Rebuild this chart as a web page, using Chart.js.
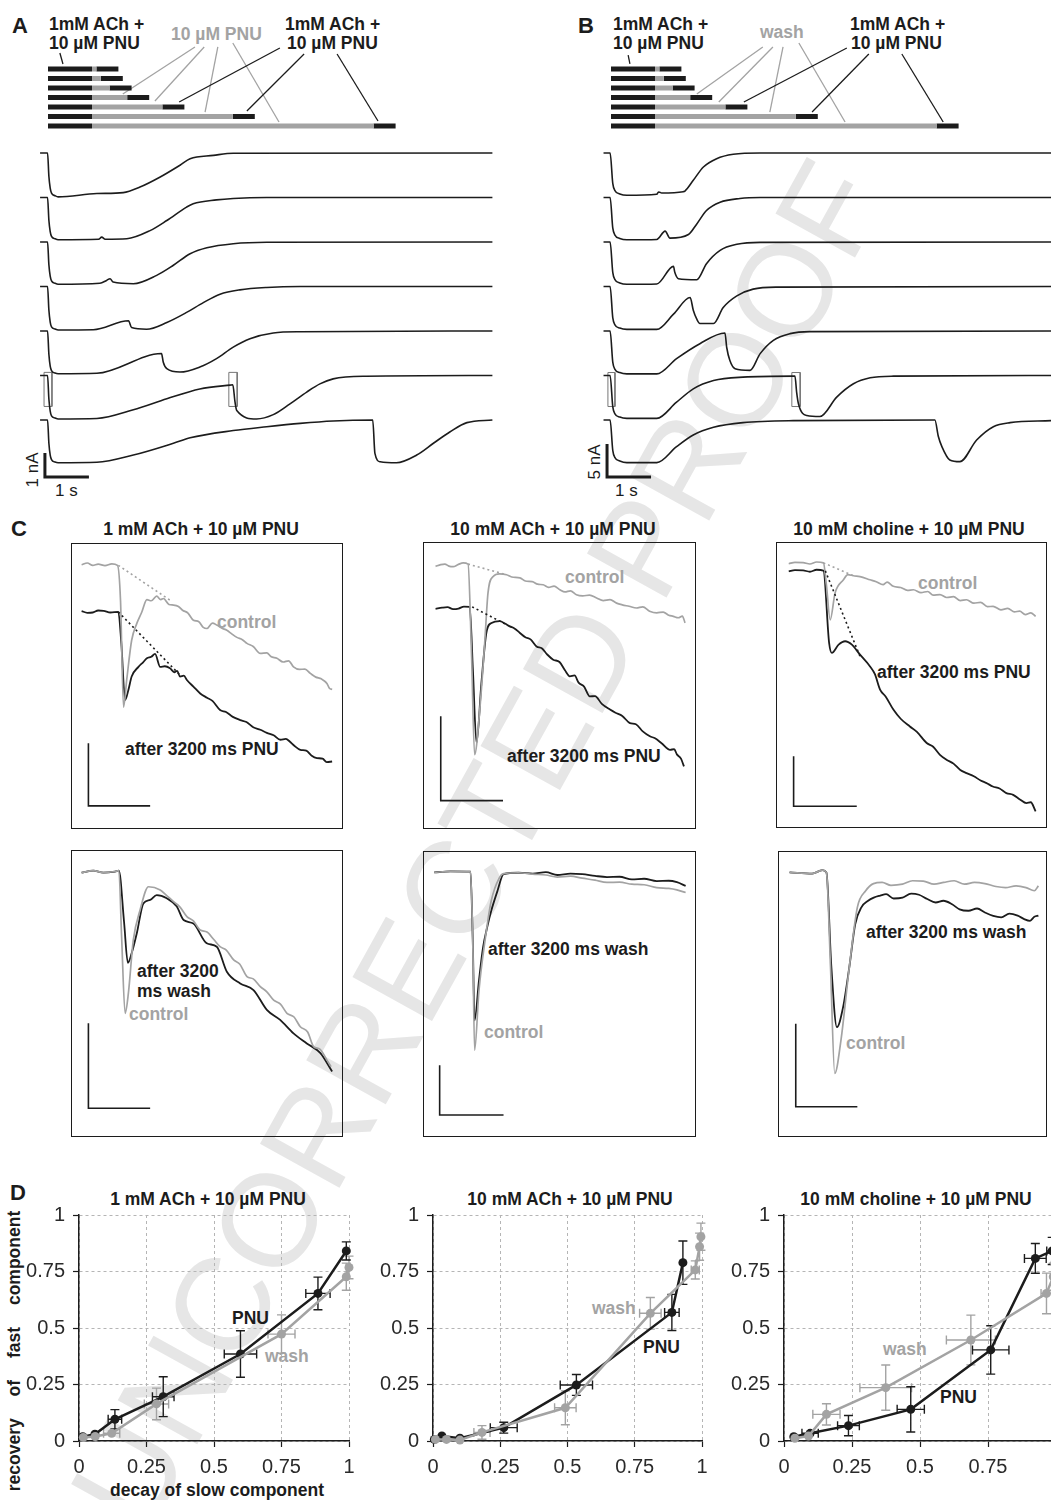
<!DOCTYPE html>
<html>
<head>
<meta charset="utf-8">
<script src="https://cdn.jsdelivr.net/npm/chart.js@4.4.1/dist/chart.umd.min.js"></script>
<style>
    html, body { margin: 0; padding: 0; background: #fff; }
    body { width: 1051px; height: 1500px; position: relative; overflow: hidden; font-family: "Liberation Sans", Arial, sans-serif; }
    canvas { position: absolute; }
    .lbl { position: absolute; font-weight: bold; font-size: 17.5px; line-height: 1; color: #1c1c1c; white-space: nowrap; }
    .gray { color: #a3a3a3; }
    .panel { font-size: 22px; }
    .ctr { transform: translateX(-50%); }
    .reg { font-weight: normal; font-size: 17px; }
    .box { position: absolute; border: 1.5px solid #1c1c1c; box-sizing: border-box; }
    .wm { position: absolute; left: 478px; top: 845px; font-size: 132px; line-height: 1; color: #e6e6e6; white-space: nowrap;
          transform: translate(-50%, -50%) rotate(-61deg); }
</style>
</head>
<body>
<div class="wm">UNCORRECTED PROOF</div>

<!-- panel A / B headers -->
<div class="lbl panel" style="left:12px;top:15px">A</div>
<div class="lbl" style="left:49px;top:16px">1mM ACh +</div>
<div class="lbl" style="left:49px;top:35px">10 µM PNU</div>
<div class="lbl gray" style="left:171px;top:26px">10 µM PNU</div>
<div class="lbl" style="left:285px;top:16px">1mM ACh +</div>
<div class="lbl" style="left:287px;top:35px">10 µM PNU</div>
<div class="lbl reg" style="left:32px;top:470px;transform:translate(-50%,-50%) rotate(-90deg)">1 nA</div>
<div class="lbl reg" style="left:55px;top:482px">1 s</div>

<div class="lbl panel" style="left:578px;top:15px">B</div>
<div class="lbl" style="left:613px;top:16px">1mM ACh +</div>
<div class="lbl" style="left:613px;top:35px">10 µM PNU</div>
<div class="lbl gray" style="left:760px;top:24px">wash</div>
<div class="lbl" style="left:850px;top:16px">1mM ACh +</div>
<div class="lbl" style="left:851px;top:35px">10 µM PNU</div>
<div class="lbl reg" style="left:594px;top:462px;transform:translate(-50%,-50%) rotate(-90deg)">5 nA</div>
<div class="lbl reg" style="left:615px;top:482px">1 s</div>

<!-- panel C -->
<div class="lbl panel" style="left:11px;top:518px">C</div>
<div class="lbl ctr" style="left:201px;top:521px">1 mM ACh + 10 µM PNU</div>
<div class="lbl ctr" style="left:553px;top:521px">10 mM ACh + 10 µM PNU</div>
<div class="lbl ctr" style="left:909px;top:521px">10 mM choline + 10 µM PNU</div>
<div class="box" style="left:71px;top:543px;width:272px;height:286px"></div>
<div class="box" style="left:423px;top:542px;width:273px;height:287px"></div>
<div class="box" style="left:776px;top:542px;width:271px;height:286px"></div>
<div class="box" style="left:71px;top:850px;width:272px;height:287px"></div>
<div class="box" style="left:423px;top:851px;width:273px;height:286px"></div>
<div class="box" style="left:778px;top:851px;width:269px;height:286px"></div>
<div class="lbl gray" style="left:217px;top:614px">control</div>
<div class="lbl" style="left:125px;top:741px">after 3200 ms PNU</div>
<div class="lbl gray" style="left:565px;top:569px">control</div>
<div class="lbl" style="left:507px;top:748px">after 3200 ms PNU</div>
<div class="lbl gray" style="left:918px;top:575px">control</div>
<div class="lbl" style="left:877px;top:664px">after 3200 ms PNU</div>
<div class="lbl" style="left:137px;top:963px">after 3200</div>
<div class="lbl" style="left:137px;top:983px">ms wash</div>
<div class="lbl gray" style="left:129px;top:1006px">control</div>
<div class="lbl" style="left:488px;top:941px">after 3200 ms wash</div>
<div class="lbl gray" style="left:484px;top:1024px">control</div>
<div class="lbl" style="left:866px;top:924px">after 3200 ms wash</div>
<div class="lbl gray" style="left:846px;top:1035px">control</div>

<!-- panel D -->
<div class="lbl panel" style="left:10px;top:1182px">D</div>
<div class="lbl ctr" style="left:208px;top:1191px">1 mM ACh + 10 µM PNU</div>
<div class="lbl ctr" style="left:570px;top:1191px">10 mM ACh + 10 µM PNU</div>
<div class="lbl ctr" style="left:916px;top:1191px">10 mM choline + 10 µM PNU</div>
<div class="lbl" style="left:15px;top:1351px;word-spacing:17px;transform:translate(-50%,-50%) rotate(-90deg)">recovery of fast component</div>
<div class="lbl ctr" style="left:217px;top:1482px">decay of slow component</div>
<div class="lbl" style="left:232px;top:1310px">PNU</div>
<div class="lbl gray" style="left:265px;top:1348px">wash</div>
<div class="lbl gray" style="left:592px;top:1300px">wash</div>
<div class="lbl" style="left:643px;top:1339px">PNU</div>
<div class="lbl gray" style="left:883px;top:1341px">wash</div>
<div class="lbl" style="left:940px;top:1389px">PNU</div>

<script>
// ---------- data ----------
// protocol: 1 s ACh+PNU, then PNU alone (A) or wash (B), then 0.5 s ACh+PNU
const gapDurations = [0.1, 0.2, 0.4, 0.8, 1.6, 3.2, 6.4];   // s
const pulse1 = 1.0;
const pulse2 = 0.5;

// connector lines [time s, protocol row]
const linksALeft = [[[0.27, -1.68], [0.34, -0.53]]];
const linksAGray = [[[3.34, -2.32], [1.70, 2.63]], [[3.55, -2.32], [2.43, 3.37]], [[3.86, -2.32], [3.57, 4.53]], [[4.20, -2.74], [5.25, 5.58]]];
const linksABlack = [[[5.27, -2.21], [2.98, 3.47]], [[5.82, -1.58], [4.52, 4.42]], [[6.57, -1.58], [7.50, 5.47]]];
const linksBLeft = [[[0.39, -1.47], [0.43, -0.53]]];
const linksBGray = [[[3.45, -2.32], [1.95, 2.63]], [[3.68, -2.32], [2.45, 3.47]], [[3.91, -2.32], [3.61, 4.53]], [[4.27, -2.74], [5.32, 5.58]]];
const linksBBlack = [[[5.36, -2.21], [3.02, 3.47]], [[5.86, -1.58], [4.57, 4.53]], [[6.61, -1.58], [7.55, 5.58]]];

// A traces: [time s, current nA]
const traceA1 = [[-0.18,0],[-0.01,0],[0.02,-0.97],[0.05,-1.46],[0.08,-1.67],[0.16,-1.78],[0.23,-1.83],[1.11,-1.69],[1.71,-1.65],[2.09,-1.42],[2.55,-1.0],[3.0,-0.51],[3.23,-0.24],[3.76,-0.1],[4.21,-0.01],[10.1,0]];
const traceA2 = [[-0.18,0],[-0.01,0],[0.02,-0.95],[0.05,-1.42],[0.08,-1.62],[0.16,-1.72],[0.23,-1.76],[1.15,-1.74],[1.22,-1.65],[1.3,-1.74],[1.79,-1.72],[2.32,-1.38],[2.7,-0.96],[3.15,-0.4],[3.3,-0.26],[3.83,-0.1],[4.21,-0.04],[4.97,0],[10.1,0]];
const traceA3 = [[-0.18,0],[-0.01,0],[0.02,-0.95],[0.05,-1.42],[0.08,-1.62],[0.16,-1.72],[0.23,-1.76],[1.18,-1.72],[1.33,-1.6],[1.41,-1.53],[1.48,-1.67],[1.94,-1.74],[2.47,-1.39],[2.85,-0.97],[3.23,-0.49],[3.61,-0.24],[4.21,-0.07],[4.97,-0.01],[10.1,0]];
const traceA4 = [[-0.18,0],[-0.01,0],[0.02,-0.98],[0.05,-1.48],[0.08,-1.68],[0.16,-1.77],[0.23,-1.81],[1.03,-1.8],[1.83,-1.43],[1.9,-1.71],[2.24,-1.78],[2.7,-1.5],[3.15,-1.08],[3.53,-0.67],[3.91,-0.32],[4.36,-0.14],[4.97,-0.04],[5.73,0],[10.1,0]];
const traceA5 = [[-0.18,0],[-0.01,0],[0.02,-0.97],[0.05,-1.46],[0.08,-1.65],[0.16,-1.75],[0.23,-1.78],[1.11,-1.76],[2.58,-0.94],[2.62,-1.3],[2.7,-1.57],[3.0,-1.71],[3.45,-1.5],[3.83,-1.15],[4.21,-0.67],[4.59,-0.32],[5.12,-0.08],[5.73,-0.03],[10.1,0]];
const traceA6 = [[-0.18,0],[-0.01,0],[0.02,-0.98],[0.05,-1.48],[0.08,-1.68],[0.16,-1.77],[0.23,-1.81],[1.11,-1.79],[1.94,-1.43],[2.7,-0.97],[3.45,-0.56],[4.14,-0.4],[4.2,-0.39],[4.25,-1.1],[4.29,-1.46],[4.74,-1.81],[5.12,-1.63],[5.5,-1.18],[5.88,-0.69],[6.18,-0.35],[6.48,-0.14],[7.24,-0.03],[10.1,0]];
const traceA7 = [[-0.18,0],[-0.01,0],[0.02,-0.97],[0.05,-1.46],[0.08,-1.65],[0.16,-1.75],[0.23,-1.78],[1.11,-1.76],[1.94,-1.46],[2.85,-0.97],[3.23,-0.74],[4.21,-0.44],[4.97,-0.28],[5.73,-0.14],[6.48,-0.04],[7.38,0],[7.43,-1.39],[7.55,-1.74],[7.92,-1.78],[8.38,-1.46],[8.76,-0.97],[9.14,-0.49],[9.52,-0.11],[10.1,0]];

// B traces: [time s, current nA]
const traceB1 = [[-0.17,0],[-0.02,0],[0.04,-4.6],[0.09,-5.7],[0.2,-6.2],[0.36,-6.41],[1.04,-6.26],[1.08,-5.9],[1.11,-5.95],[1.15,-6.06],[1.64,-5.86],[1.68,-5.76],[1.87,-4.14],[2.1,-2.12],[2.4,-0.86],[2.78,-0.2],[3.39,0],[10,0]];
const traceB2 = [[-0.17,0],[-0.02,0],[0.04,-4.6],[0.09,-5.7],[0.2,-6.2],[0.36,-6.41],[1.04,-6.36],[1.23,-5.1],[1.34,-6.16],[1.76,-5.61],[1.95,-4.0],[2.17,-1.97],[2.48,-0.71],[2.93,-0.15],[3.39,0],[10,0]];
const traceB3 = [[-0.17,0],[-0.02,0],[0.04,-4.6],[0.09,-5.7],[0.2,-6.2],[0.36,-6.41],[1.04,-6.36],[1.42,-3.69],[1.45,-4.6],[1.53,-5.56],[1.95,-5.71],[2.17,-3.28],[2.48,-1.26],[2.86,-0.35],[3.39,-0.05],[10,0]];
const traceB4 = [[-0.17,0],[-0.02,0],[0.04,-4.7],[0.09,-5.8],[0.2,-6.3],[0.36,-6.5],[1.04,-6.5],[1.42,-4.19],[1.8,-1.67],[1.87,-3.6],[1.95,-4.95],[2.02,-5.6],[2.33,-5.6],[2.55,-3.18],[2.86,-1.41],[3.23,-0.4],[3.77,-0.1],[10,0]];
const traceB5 = [[-0.17,0],[-0.02,0],[0.04,-4.7],[0.09,-5.8],[0.2,-6.3],[0.36,-6.5],[1.04,-6.5],[1.49,-4.19],[2.02,-1.92],[2.59,-0.3],[2.63,-2.5],[2.7,-4.44],[2.82,-5.71],[3.16,-5.96],[3.39,-3.43],[3.69,-1.41],[4.07,-0.4],[4.52,-0.1],[10,0]];
const traceB6 = [[-0.17,0],[-0.02,0],[0.04,-4.7],[0.09,-5.8],[0.2,-6.3],[0.36,-6.5],[1.04,-6.5],[1.49,-4.04],[1.87,-2.02],[2.33,-0.76],[3.0,-0.25],[4.14,-0.1],[4.18,-0.1],[4.22,-2.6],[4.26,-4.29],[4.45,-6.06],[4.75,-6.21],[5.13,-3.28],[5.51,-1.26],[5.89,-0.35],[6.42,-0.1],[10,0]];
const traceB7 = [[-0.17,0],[-0.02,0],[0.04,-4.6],[0.09,-5.7],[0.2,-6.2],[0.36,-6.46],[1.04,-6.46],[1.49,-4.04],[1.87,-2.27],[2.33,-1.11],[3.0,-0.4],[4.14,-0.1],[7.36,0],[7.44,-2.5],[7.52,-4.04],[7.7,-6.06],[7.93,-6.31],[8.31,-3.03],[8.69,-1.01],[9.07,-0.4],[10,-0.1]];

// magnified windows (boxes in row 6), [t0, t1, v0, v1] relative to that row
const zoomBoxesA = [[-0.09, 0.09, 0.13, -1.29], [4.11, 4.30, 0.13, -1.29]];
const zoomBoxesB = [[-0.07, 0.09, 0.45, -4.7], [4.11, 4.30, 0.45, -4.7]];
// scale bars: corner [t, v], lengths 1 s and 1 nA / 5 nA
const scaleBarA = [[-0.07, -12.5], [-0.07, -13.5], [0.93, -13.5]];
const scaleBarB = [[-0.09, -44.1], [-0.09, -49.1], [0.91, -49.1]];

// C: [time % of window, current % of window]
const c1Control = [[3.9,92.4],[6,93],[8,92.2],[10,92.6],[12.5,92.1],[15,92.7],[17.1,92.2],[18.2,80],[19.3,42.6],[20.5,52.3],[22.3,66],[24.2,71.9],[26,75.8],[27.9,80.2],[29.5,79.8],[31.5,81.4],[33,80.2],[34,80.6],[36,78.5],[37.7,78.3],[39.5,77.8],[41,76.5],[43,75.5],[45,73],[47,72.5],[48.5,70.6],[50,70.1],[52,72],[53.6,71.3],[55.5,70.2],[57.3,69.5],[59,68.3],[61,67],[63,66.2],[64.7,64.9],[67,63.8],[69.6,61.4],[72,61.6],[73.5,60.3],[75.7,59.7],[78,58.4],[80,58.8],[81.8,56.7],[84,55.8],[86,55.9],[88,54.4],[90,53.1],[92,52.5],[94.1,50.9],[95,49.2],[96,48.8]];
const c1Pnu = [[3.9,76.2],[6,75.6],[8,75.7],[10,76.4],[12,76.3],[14.5,75.7],[17.4,75.9],[18.5,65],[19.9,45.1],[21.1,48.6],[22.3,53.3],[24.8,56.7],[26.5,58.3],[27.9,59.7],[29.5,60.2],[30.9,61.2],[32.8,56.7],[34.5,56.9],[36.4,56.2],[38,54.8],[39,55.3],[40.1,53.3],[41.5,53.6],[42.6,52.1],[45,49.8],[47.5,47.4],[50,45.9],[52,44.8],[54.8,41.6],[57,40.9],[59.5,39.2],[62.2,38.1],[64.5,37.4],[67,35.6],[69.6,34.7],[72,33.6],[74.5,32.8],[77,31.2],[79,31.5],[80.5,30.5],[82,29.2],[84.3,27.7],[86.5,27.4],[88.5,25.6],[90.4,24.8],[92.5,24.6],[94,23.4],[96,23.6]];
const c1DotGray = [[17.4,92.2],[36.4,80]];
const c1DotBlack = [[17.4,75.9],[40.1,53.8]];
const c1Bar = [[6.4,30],[6.4,8.1],[29.1,8.1]];

const c2Control = [[4.6,91.5],[6.5,92.1],[8,92.3],[9.5,91.6],[11,91.4],[13,92.2],[14.7,92.7],[16.5,92.3],[17.8,60],[18.9,25.9],[20.8,41.6],[22.6,64.8],[23.8,82.2],[25.7,88],[28,88.9],[30.6,88.6],[32.5,87.8],[35.5,87.5],[37.5,86.4],[40,86.2],[42,85.3],[44,85.1],[46,84.2],[48,84.6],[50.1,83.4],[52,82.6],[54,83],[56.2,81.6],[58.5,81.2],[61,81.5],[63.6,80.5],[66,79.6],[68.5,79.9],[70.9,78.7],[73,78.1],[75.5,77.6],[78.2,77],[80.5,77.4],[83,75.9],[85.6,75.3],[88,75.6],[90,74.5],[91.7,74.1],[93.5,73.6],[95,74.2],[96,71.8]];
const c2Pnu = [[4.6,76.7],[7,77.1],[9,77.3],[11,76.6],[13,76.8],[15,77.5],[17.1,77.4],[18.3,55],[19.6,30],[21.4,50.9],[23.2,68.3],[25.1,71.8],[28.1,72.4],[30,71.6],[31.8,70.6],[33.5,69.9],[35.5,68.3],[37.5,66.8],[39.5,66],[41.6,63.6],[43.5,63],[45.5,60.8],[47.7,59],[50,58.2],[52,55.3],[53.8,53.2],[55.5,53.5],[57,51],[59,49.6],[61.1,46.2],[63,46.3],[65.5,43.6],[68.5,41.6],[70.5,40.5],[73,39.4],[75.8,36.9],[78,36.5],[80.5,34],[83.1,32.3],[85,31.6],[87.5,29.8],[90.5,27.6],[92,27.8],[93,26],[94.5,24.5],[95.6,21.8]];
const c2DotGray = [[16.5,92.3],[30.6,88.6]];
const c2DotBlack = [[18,77.4],[30.6,71.2]];
const c2Bar = [[6.5,39.3],[6.5,9.9],[29.3,9.9]];

const c3Control = [[4.7,92.4],[7,92.9],[10,92.8],[12.5,92.3],[15,93],[17.5,92.7],[18.6,85],[20,72.8],[21.8,82.2],[24.9,86.8],[26.5,88.6],[28.6,88.2],[31,87.9],[34.7,86.8],[37,86.1],[39.5,85.1],[41,86],[43.3,84.5],[46,84.1],[48.5,83.1],[50.7,83.3],[53.5,82.3],[56,82.7],[58,81.4],[60.5,81.6],[63,80.6],[65.5,80.9],[68,79.5],[70.3,79.8],[73,78.6],[75.5,78.9],[78,77.4],[80.1,77.5],[83,76.3],[85.5,76.8],[88,75.6],[89.9,75.8],[92,74.6],[94,75.2],[95.8,74]];
const c3Pnu = [[4.7,89.7],[7,90.2],[10,90.1],[12.5,89.6],[15,90.3],[17.5,90],[19.6,64.7],[20.6,61.2],[23.1,64.1],[25.5,65.3],[28,64.1],[31,60.6],[34.7,56.5],[36.5,53.8],[38.4,48.4],[40.5,45.9],[43.3,41.4],[46,38.2],[49.4,35.5],[52,33.6],[55.6,29.7],[58,28.4],[60.5,25.6],[62.9,23.9],[65.5,22.5],[68,20.3],[70.3,19.2],[73,18.1],[75.5,16.6],[77.7,15.7],[80,14.5],[82.5,13.8],[85,12.2],[87.5,11.6],[90,10],[92.4,8.7],[94,9],[95.8,5.8]];
const c3DotGray = [[17.5,92.7],[28.6,88.2]];
const c3DotBlack = [[18.2,89.9],[31,60]];
const c3Bar = [[6.5,25.1],[6.5,7.6],[29.8,7.6]];

const c4Control = [[3.9,92.1],[8.2,92.8],[11.9,92.1],[16.2,92.5],[17.6,92.8],[18.6,70],[19.9,43.1],[21.1,50.1],[22.9,68.6],[25.4,79.1],[28.5,87.2],[32.8,86.1],[35,84.3],[37.7,82],[40,80.2],[42.6,76.8],[45,75.3],[47.5,72.1],[50,71.4],[52.5,68.8],[54.8,66.3],[57,65.2],[59.8,61.7],[62,60.3],[64.7,55.9],[67,55.1],[69.6,52.4],[72,50.6],[74.5,47.7],[77,46.3],[79.4,43.1],[82,41.8],[84.3,38.4],[87,36.6],[89.2,31.5],[91.5,30.6],[94.1,26.8],[95.6,24.5]];
const c4Wash = [[3.9,92.1],[8.2,92.8],[11.9,92.1],[16.2,92.5],[17.6,92.8],[19.5,75],[20.9,60.7],[22.3,64],[24.2,71],[26.6,81.4],[29.1,82.6],[31.5,84.3],[35.2,83.2],[38.9,80.3],[41.4,75.6],[45,74.4],[49.9,67.5],[53.6,66.3],[57.3,57.6],[62.2,53.5],[67.1,51.2],[72,44.3],[76.9,40.8],[81.8,36.1],[86.7,32.6],[91.7,29.2],[96,22.8]];
const c4Bar = [[6.4,39.6],[6.4,10],[29.1,10]];

const c5Control = [[4.1,92.5],[10,92.9],[17.4,92.8],[18.2,70],[18.9,30.3],[20.5,51.2],[22.7,68.6],[25,82.6],[28,90.7],[29.5,92.1],[35,92.4],[40.2,91.9],[45,91.6],[49.2,90.9],[54,91.2],[58.3,90.5],[63,89.8],[67.4,89],[72,89.1],[76.5,88.4],[81,88.2],[85.6,87.2],[90,86.9],[93,86.4],[96.2,85.5]];
const c5Wash = [[4.1,92.5],[10,92.9],[17.4,92.8],[18.2,70],[18.9,40.8],[20.5,54.7],[22,66.3],[23.5,73.3],[25,79.1],[27.3,86.1],[29.5,91.9],[35,92.4],[40.2,92.1],[45,92.6],[49.2,91.6],[54,92.1],[58.3,91.9],[63,91.3],[67.4,90.9],[72,91],[76.5,90.1],[81,90.3],[85.6,89.5],[90,89.6],[93,89.1],[96.2,87.8]];
const c5Bar = [[6.1,25.1],[6.1,7.7],[29.5,7.7]];

const c6Control = [[4.3,92.5],[12.7,92.1],[16.5,93.3],[18,92.5],[19.5,60],[21.1,22.2],[23.4,33.8],[26.5,59.3],[29.5,80.3],[32.6,86.1],[35.5,88.6],[38.7,89],[42,88],[46.3,88.4],[50,89.6],[54,89.5],[58,88.4],[61.6,89],[65.5,89.6],[69.3,88.4],[73,89],[76.9,88.6],[81,87.6],[84.6,87.2],[88.5,87.8],[92.2,87.2],[95.3,86.1],[96.8,87.8]];
const c6Wash = [[4.3,92.5],[12.7,92.1],[16.5,93.3],[18,92.5],[19.8,60],[21.9,38.4],[24.2,45.4],[26.5,59.3],[28.7,74.4],[31,80.3],[33.5,82.6],[35.6,83.7],[38,84.4],[40.2,84.9],[43,83.4],[46.3,83.7],[49.5,85.1],[52.4,84.7],[55.5,83.2],[58.6,82],[61.5,82.6],[64.7,81.4],[67.5,79.6],[70.8,79.1],[74,79.9],[76.9,78.5],[80,77.3],[83,76.8],[86,78.1],[89.1,77.4],[91.5,76.2],[93.7,75.6],[95.3,77],[96.8,77.4]];
const c6Bar = [[6.6,39.6],[6.6,10.6],[29.5,10.6]];

// D: decay of slow component (x) vs recovery of fast component (y)
const d1PnuX = [0.014, 0.059, 0.133, 0.312, 0.598, 0.885, 0.99];
const d1PnuY = [0.019, 0.03, 0.096, 0.196, 0.385, 0.653, 0.841];
const d1PnuXErr = [0.005, 0.005, 0.025, 0.04, 0.06, 0.045, 0.01];
const d1PnuYErr = [0.005, 0.005, 0.043, 0.088, 0.103, 0.072, 0.04];
const d1WashX = [0.016, 0.06, 0.121, 0.287, 0.75, 0.99, 1.0];
const d1WashY = [0.016, 0.02, 0.034, 0.164, 0.473, 0.727, 0.768];
const d1WashXErr = [0.005, 0.005, 0.03, 0.045, 0.05, 0.01, 0.01];
const d1WashYErr = [0.005, 0.005, 0.01, 0.07, 0.085, 0.06, 0.05];

const d2PnuX = [0.005, 0.033, 0.10, 0.263, 0.533, 0.888, 0.929];
const d2PnuY = [0.007, 0.022, 0.012, 0.059, 0.248, 0.569, 0.789];
const d2PnuXErr = [0.004, 0.004, 0.005, 0.05, 0.06, 0.027, 0.01];
const d2PnuYErr = [0.004, 0.004, 0.005, 0.024, 0.046, 0.08, 0.096];
const d2WashX = [0.009, 0.05, 0.10, 0.182, 0.492, 0.808, 0.975, 0.991, 0.996];
const d2WashY = [0.007, 0.007, 0.004, 0.038, 0.147, 0.565, 0.757, 0.86, 0.904];
const d2WashXErr = [0.004, 0.004, 0.005, 0.03, 0.04, 0.04, 0.015, 0.005, 0.005];
const d2WashYErr = [0.004, 0.004, 0.005, 0.03, 0.075, 0.07, 0.04, 0.06, 0.06];

const d3PnuX = [0.036, 0.096, 0.237, 0.466, 0.76, 0.924, 0.986];
const d3PnuY = [0.019, 0.034, 0.068, 0.14, 0.403, 0.808, 0.841];
const d3PnuXErr = [0.005, 0.03, 0.04, 0.05, 0.067, 0.04, 0.02];
const d3PnuYErr = [0.005, 0.01, 0.045, 0.1, 0.107, 0.066, 0.06];
const d3WashX = [0.04, 0.09, 0.156, 0.374, 0.687, 0.965, 0.99, 0.995];
const d3WashY = [0.012, 0.022, 0.118, 0.236, 0.447, 0.653, 0.727, 0.786];
const d3WashXErr = [0.005, 0.01, 0.05, 0.095, 0.09, 0.02, 0.01, 0.01];
const d3WashYErr = [0.005, 0.01, 0.047, 0.1, 0.11, 0.09, 0.06, 0.05];

const dTicks = [0, 0.25, 0.5, 0.75, 1];

// ---------- drawing ----------
const BLACK = '#1c1c1c';
const GRAY = '#a3a3a3';
Chart.defaults.font.family = '"Liberation Sans", Arial, sans-serif';

function addCanvas(left, top, w, h) {
    const c = document.createElement('canvas');
    c.width = w;
    c.height = h;
    c.style.left = left + 'px';
    c.style.top = top + 'px';
    c.style.width = w + 'px';
    c.style.height = h + 'px';
    document.body.appendChild(c);
    return c;
}

// a polyline dataset from [x, y] pairs
function line(points, color, width, extra) {
    return Object.assign({
        data: points.map(p => ({ x: p[0], y: p[1] })),
        showLine: true,
        borderColor: color,
        backgroundColor: color,
        borderWidth: width,
        pointRadius: 0,
        tension: 0,
        clip: false
    }, extra || {});
}

const hidden = { display: false };

// Panels A and B: protocol bars on top, stacked current traces below
function tracePanel(left, zeroPx, traces, nAperPx, rowStep, links, boxes, bar) {
    const W = 520, H = 500;
    const pxPerS = 44, base0 = 153, row0 = 69, rowPx = 9.5;
    const ds = [];

    gapDurations.forEach((g, i) => {
        ds.push(line([[0, i], [pulse1, i]], BLACK, 5, { yAxisID: 'yP' }));
        ds.push(line([[pulse1, i], [pulse1 + g, i]], GRAY, 5, { yAxisID: 'yP' }));
        ds.push(line([[pulse1 + g, i], [pulse1 + g + pulse2, i]], BLACK, 5, { yAxisID: 'yP' }));
    });
    links.left.concat(links.black).forEach(l => ds.push(line(l, BLACK, 1.3, { yAxisID: 'yP' })));
    links.gray.forEach(l => ds.push(line(l, GRAY, 1.3, { yAxisID: 'yP' })));

    traces.forEach((tr, k) => {
        const shifted = tr.map(p => [p[0], p[1] - k * rowStep]);
        ds.push(line(shifted, BLACK, 1.6, { yAxisID: 'yT', cubicInterpolationMode: 'monotone' }));
    });

    boxes.forEach(b => {
        const off = -5 * rowStep;
        ds.push(line([[b[0], b[2] + off], [b[1], b[2] + off], [b[1], b[3] + off], [b[0], b[3] + off], [b[0], b[2] + off]],
            '#777', 1, { yAxisID: 'yT' }));
    });
    ds.push(line(bar, BLACK, 3, { yAxisID: 'yT', borderJoinStyle: 'miter' }));

    new Chart(addCanvas(left, 0, W, H), {
        type: 'scatter',
        data: { datasets: ds },
        options: {
            responsive: false,
            animation: false,
            events: [],
            devicePixelRatio: 1,
            layout: { padding: 0 },
            plugins: { legend: hidden, tooltip: { enabled: false } },
            scales: {
                x: { type: 'linear', display: false, min: -zeroPx / pxPerS, max: (W - zeroPx) / pxPerS },
                yT: { type: 'linear', display: false, min: -(H - base0) * nAperPx, max: base0 * nAperPx },
                yP: { type: 'linear', display: false, reverse: true, min: -row0 / rowPx, max: (H - row0) / rowPx }
            }
        }
    });
}

tracePanel(0, 48, [traceA1, traceA2, traceA3, traceA4, traceA5, traceA6, traceA7], 1 / 24, 44.5 / 24,
    { left: linksALeft, gray: linksAGray, black: linksABlack }, zoomBoxesA, scaleBarA);
tracePanel(531, 80, [traceB1, traceB2, traceB3, traceB4, traceB5, traceB6, traceB7], 1 / 6.6, 44.5 / 6.6,
    { left: linksBLeft, gray: linksBGray, black: linksBBlack }, zoomBoxesB, scaleBarB);

// Panel C: magnified onsets
function cBox(left, top, w, h, gray, black, dotGray, dotBlack, bar) {
    const ds = [];
    if (dotGray) ds.push(line(dotGray, GRAY, 1.6, { borderDash: [2, 3] }));
    if (dotBlack) ds.push(line(dotBlack, BLACK, 1.6, { borderDash: [2, 3] }));
    ds.push(line(gray, GRAY, 1.7, { cubicInterpolationMode: 'monotone' }));
    ds.push(line(black, BLACK, 1.8, { cubicInterpolationMode: 'monotone' }));
    ds.push(line(bar, BLACK, 1.6));
    new Chart(addCanvas(left, top, w, h), {
        type: 'scatter',
        data: { datasets: ds },
        options: {
            responsive: false,
            animation: false,
            events: [],
            devicePixelRatio: 1,
            layout: { padding: 0 },
            plugins: { legend: hidden, tooltip: { enabled: false } },
            scales: {
                x: { type: 'linear', display: false, min: 0, max: 100 },
                y: { type: 'linear', display: false, min: 0, max: 100 }
            }
        }
    });
}

cBox(71, 543, 272, 286, c1Control, c1Pnu, c1DotGray, c1DotBlack, c1Bar);
cBox(423, 542, 273, 287, c2Control, c2Pnu, c2DotGray, c2DotBlack, c2Bar);
cBox(776, 542, 271, 286, c3Control, c3Pnu, c3DotGray, c3DotBlack, c3Bar);
cBox(71, 850, 272, 287, c4Control, c4Wash, null, null, c4Bar);
cBox(423, 851, 273, 286, c5Control, c5Wash, null, null, c5Bar);
cBox(778, 851, 269, 286, c6Control, c6Wash, null, null, c6Bar);

// Panel D: error bars drawn through the scales
const errorBars = {
    id: 'errorBars',
    beforeDatasetsDraw(chart) {
        const { ctx, scales: { x, y } } = chart;
        chart.data.datasets.forEach(ds => {
            if (!ds.errX) return;
            ctx.save();
            ctx.strokeStyle = ds.borderColor;
            ctx.lineWidth = 1.4;
            ctx.beginPath();
            ds.data.forEach((p, i) => {
                const px = x.getPixelForValue(p.x), py = y.getPixelForValue(p.y);
                const x0 = x.getPixelForValue(p.x - ds.errX[i]), x1 = x.getPixelForValue(p.x + ds.errX[i]);
                const y0 = y.getPixelForValue(p.y - ds.errY[i]), y1 = y.getPixelForValue(p.y + ds.errY[i]);
                const cap = 4.5;
                if (x1 - x0 > 6) {
                    ctx.moveTo(x0, py); ctx.lineTo(x1, py);
                    ctx.moveTo(x0, py - cap); ctx.lineTo(x0, py + cap);
                    ctx.moveTo(x1, py - cap); ctx.lineTo(x1, py + cap);
                }
                if (y0 - y1 > 6) {
                    ctx.moveTo(px, y0); ctx.lineTo(px, y1);
                    ctx.moveTo(px - cap, y0); ctx.lineTo(px + cap, y0);
                    ctx.moveTo(px - cap, y1); ctx.lineTo(px + cap, y1);
                }
            });
            ctx.stroke();
            ctx.restore();
        });
    }
};

function dPlot(left, yAxisW, width, pnu, wash) {
    const top = 1201, height = 272;
    const series = (s, color) => ({
        data: s.x.map((v, i) => ({ x: v, y: s.y[i] })),
        errX: s.ex,
        errY: s.ey,
        showLine: true,
        borderColor: color,
        backgroundColor: color,
        borderWidth: 2.5,
        pointRadius: 4.5,
        pointBorderWidth: 0,
        tension: 0,
        clip: false
    });
    const axis = (fit) => ({
        type: 'linear',
        min: 0,
        max: 1,
        afterBuildTicks: s => { s.ticks = dTicks.map(v => ({ value: v })); },
        afterFit: s => {
            fit(s);
            s.paddingLeft = 0; s.paddingRight = 0; s.paddingTop = 0; s.paddingBottom = 0;
        },
        ticks: { color: '#2a2a2a', font: { size: 20 }, padding: 8, callback: v => String(v) },
        grid: { color: '#b5b5b5', lineWidth: 1, tickColor: BLACK, tickLength: 6, tickWidth: 1.2 },
        border: { display: true, color: BLACK, width: 1.5, dash: [3, 3] }
    });
    new Chart(addCanvas(left, top, width, height), {
        type: 'scatter',
        data: { datasets: [series(wash, GRAY), series(pnu, BLACK)] },
        options: {
            responsive: false,
            animation: false,
            events: [],
            devicePixelRatio: 1,
            layout: { padding: { top: 14, right: 12, left: 0, bottom: 0 } },
            plugins: { legend: hidden, tooltip: { enabled: false } },
            scales: {
                x: axis(s => { s.height = 32; }),
                y: axis(s => { s.width = yAxisW; })
            }
        },
        plugins: [errorBars]
    });
}

dPlot(0, 79, 361,
    { x: d1PnuX, y: d1PnuY, ex: d1PnuXErr, ey: d1PnuYErr },
    { x: d1WashX, y: d1WashY, ex: d1WashXErr, ey: d1WashYErr });
dPlot(360, 73, 354,
    { x: d2PnuX, y: d2PnuY, ex: d2PnuXErr, ey: d2PnuYErr },
    { x: d2WashX, y: d2WashY, ex: d2WashXErr, ey: d2WashYErr });
dPlot(720, 64, 348,
    { x: d3PnuX, y: d3PnuY, ex: d3PnuXErr, ey: d3PnuYErr },
    { x: d3WashX, y: d3WashY, ex: d3WashXErr, ey: d3WashYErr });
</script>
</body>
</html>
